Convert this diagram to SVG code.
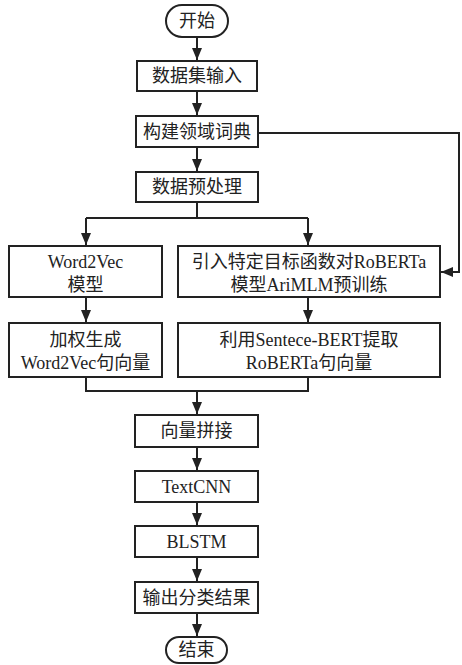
<svg xmlns="http://www.w3.org/2000/svg" width="462" height="665" viewBox="0 0 462 665">
  <style>
    .box { fill: #ffffff; stroke: #222222; stroke-width: 2; }
    .lbl { font-family: "Liberation Serif", "Noto Sans CJK SC", serif; font-size: 18px; fill: #222222; text-anchor: middle; }
    .wire { fill: none; stroke: #222222; stroke-width: 2; }
  </style>
  <defs>
    <marker id="arrow" viewBox="0 0 12 10" refX="12" refY="5" markerWidth="12" markerHeight="10" markerUnits="userSpaceOnUse" orient="auto">
      <path d="M0,0 L12,5 L0,10 Z" fill="#222222"/>
    </marker>
  </defs>
  <rect width="462" height="665" fill="#ffffff"/>

  <g id="connectors">
    <line class="wire" x1="197" y1="37" x2="197" y2="60" marker-end="url(#arrow)"/>
    <line class="wire" x1="197" y1="91" x2="197" y2="115" marker-end="url(#arrow)"/>
    <line class="wire" x1="197" y1="147" x2="197" y2="171" marker-end="url(#arrow)"/>
    <polyline class="wire" points="258,133 459,133 459,272 441,272" marker-end="url(#arrow)"/>
    <polyline class="wire" points="197,202 197,218"/>
    <polyline class="wire" points="86,218 308,218"/>
    <line class="wire" x1="86" y1="218" x2="86" y2="245" marker-end="url(#arrow)"/>
    <line class="wire" x1="308" y1="218" x2="308" y2="245" marker-end="url(#arrow)"/>
    <line class="wire" x1="86" y1="297" x2="86" y2="322" marker-end="url(#arrow)"/>
    <line class="wire" x1="308" y1="297" x2="308" y2="322" marker-end="url(#arrow)"/>
    <polyline class="wire" points="86,377 86,391 308,391 308,377"/>
    <line class="wire" x1="197" y1="391" x2="197" y2="414" marker-end="url(#arrow)"/>
    <line class="wire" x1="197" y1="447" x2="197" y2="470" marker-end="url(#arrow)"/>
    <line class="wire" x1="197" y1="502" x2="197" y2="525" marker-end="url(#arrow)"/>
    <line class="wire" x1="197" y1="557" x2="197" y2="581" marker-end="url(#arrow)"/>
    <line class="wire" x1="197" y1="613" x2="197" y2="636" marker-end="url(#arrow)"/>
  </g>

  <g id="start">
    <rect class="box" x="166" y="5" width="62" height="32" rx="16" ry="16"/>
    <text class="lbl" x="197" y="27">开始</text>
  </g>
  <g id="input">
    <rect class="box" x="137" y="61" width="120" height="30"/>
    <text class="lbl" x="197" y="82">数据集输入</text>
  </g>
  <g id="dictionary">
    <rect class="box" x="136" y="116" width="122" height="31"/>
    <text class="lbl" x="197" y="138">构建领域词典</text>
  </g>
  <g id="preprocess">
    <rect class="box" x="136" y="172" width="122" height="30"/>
    <text class="lbl" x="197" y="193">数据预处理</text>
  </g>
  <g id="word2vec">
    <rect class="box" x="9" y="246" width="153" height="51"/>
    <text class="lbl" x="85.5" y="268">Word2Vec</text>
    <text class="lbl" x="85.5" y="291">模型</text>
  </g>
  <g id="roberta-pretrain">
    <rect class="box" x="178" y="246" width="262" height="51"/>
    <text class="lbl" x="309" y="268">引入特定目标函数对RoBERTa</text>
    <text class="lbl" x="309" y="291">模型AriMLM预训练</text>
  </g>
  <g id="word2vec-sentence">
    <rect class="box" x="9" y="323" width="153" height="54"/>
    <text class="lbl" x="85.5" y="346">加权生成</text>
    <text class="lbl" x="85.5" y="369">Word2Vec句向量</text>
  </g>
  <g id="roberta-sentence">
    <rect class="box" x="178" y="323" width="262" height="54"/>
    <text class="lbl" x="309" y="346">利用Sentece-BERT提取</text>
    <text class="lbl" x="309" y="369">RoBERTa句向量</text>
  </g>
  <g id="concat">
    <rect class="box" x="135" y="415" width="123" height="32"/>
    <text class="lbl" x="196.5" y="437">向量拼接</text>
  </g>
  <g id="textcnn">
    <rect class="box" x="135" y="471" width="123" height="31"/>
    <text class="lbl" x="196.5" y="493">TextCNN</text>
  </g>
  <g id="blstm">
    <rect class="box" x="135" y="526" width="123" height="31"/>
    <text class="lbl" x="196.5" y="548">BLSTM</text>
  </g>
  <g id="output">
    <rect class="box" x="135" y="582" width="123" height="31"/>
    <text class="lbl" x="196.5" y="604">输出分类结果</text>
  </g>
  <g id="end">
    <rect class="box" x="166" y="637" width="61" height="26" rx="13" ry="13"/>
    <text class="lbl" x="196.5" y="656">结束</text>
  </g>
</svg>
